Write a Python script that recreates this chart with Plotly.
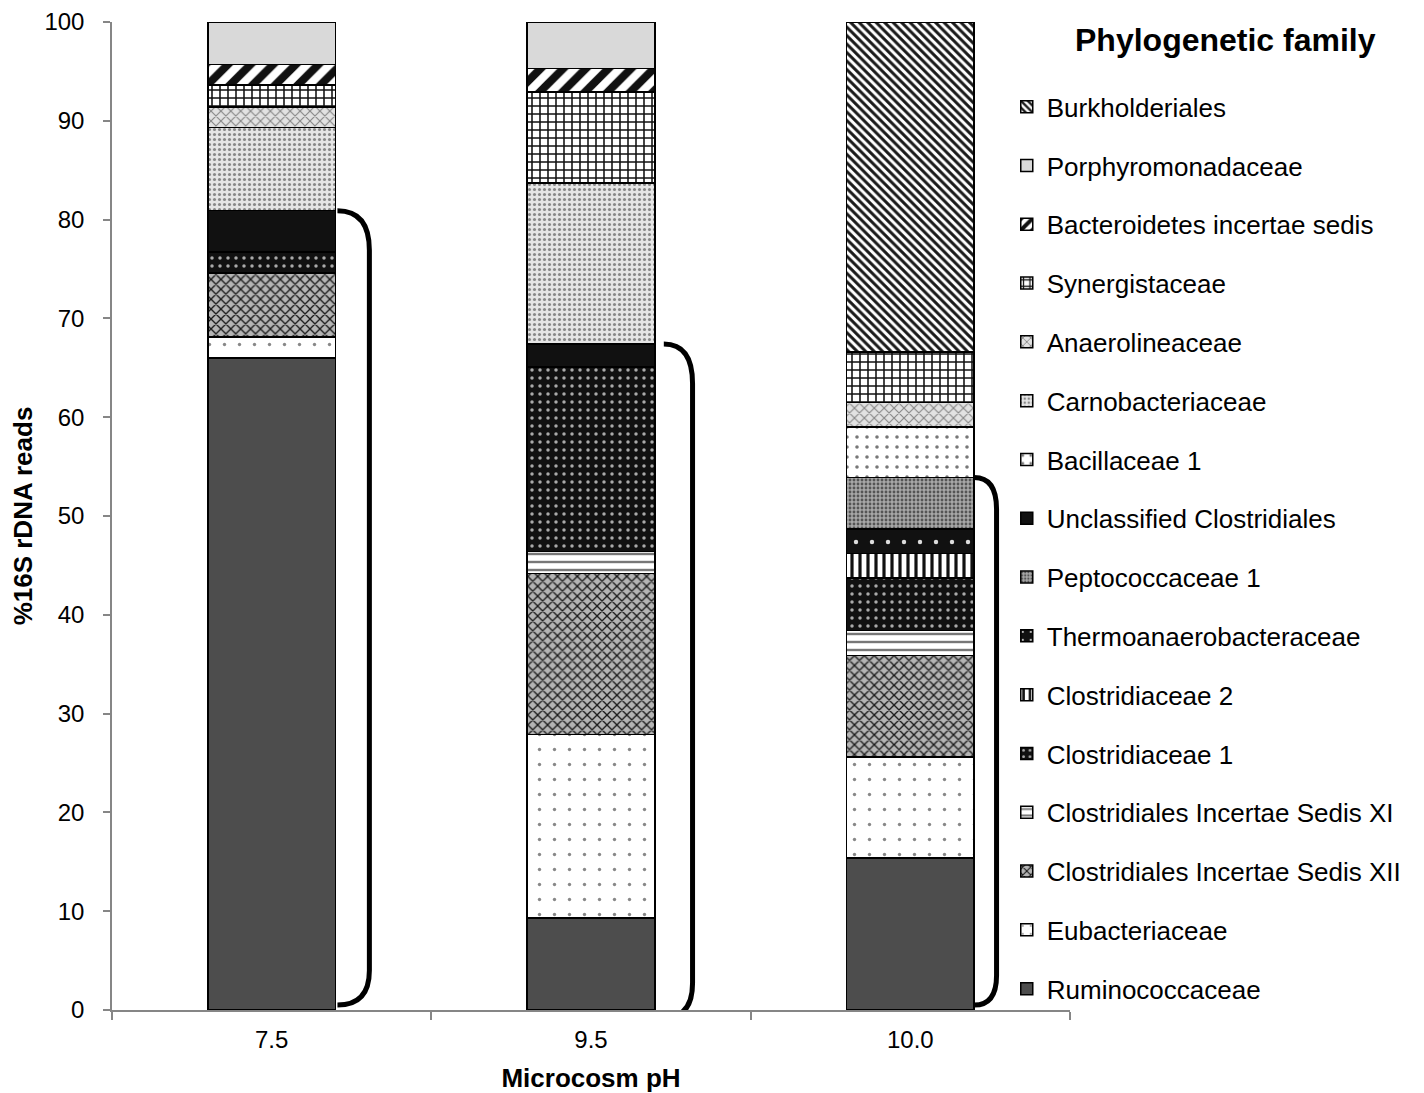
import plotly.graph_objects as go

# ---------------- data ----------------
ph_labels = ["7.5", "9.5", "10.0"]
x_pos = [0, 1, 2]

# families, bottom of stack first
families = [
    "Ruminococcaceae",
    "Eubacteriaceae",
    "Clostridiales Incertae Sedis XII",
    "Clostridiales Incertae Sedis XI",
    "Clostridiaceae 1",
    "Clostridiaceae 2",
    "Thermoanaerobacteraceae",
    "Peptococcaceae 1",
    "Unclassified Clostridiales",
    "Bacillaceae 1",
    "Carnobacteriaceae",
    "Anaerolineaceae",
    "Synergistaceae",
    "Bacteroidetes incertae sedis",
    "Porphyromonadaceae",
    "Burkholderiales",
]

ruminococcaceae = [66.0, 9.3, 15.4]
eubacteriaceae = [2.1, 18.6, 10.2]
cis_xii = [6.5, 16.3, 10.3]
cis_xi = [0.0, 2.2, 2.5]
clostridiaceae_1 = [2.1, 18.7, 5.3]
clostridiaceae_2 = [0.0, 0.0, 2.5]
thermoanaerobacteraceae = [0.0, 0.0, 2.5]
peptococcaceae_1 = [0.0, 0.0, 5.2]
unclassified_clostridiales = [4.2, 2.3, 0.0]
bacillaceae_1 = [0.0, 0.0, 5.1]
carnobacteriaceae = [8.4, 16.3, 0.0]
anaerolineaceae = [2.1, 0.0, 2.5]
synergistaceae = [2.2, 9.2, 5.1]
bacteroidetes_is = [2.1, 2.4, 0.0]
porphyromonadaceae = [4.3, 4.7, 0.0]
burkholderiales = [0.0, 0.0, 33.4]

values = [
    ruminococcaceae, eubacteriaceae, cis_xii, cis_xi, clostridiaceae_1,
    clostridiaceae_2, thermoanaerobacteraceae, peptococcaceae_1,
    unclassified_clostridiales, bacillaceae_1, carnobacteriaceae,
    anaerolineaceae, synergistaceae, bacteroidetes_is, porphyromonadaceae,
    burkholderiales,
]

# brackets: the Clostridia families grouped in each bar (last family index included)
bracket_last_family = [8, 8, 7]

# ---------------- styles ----------------
styles = [
    dict(color="#4d4d4d"),
    dict(shape=".", bg="#ffffff", fg="#888888", size=15, sol=0.04),
    dict(shape="x", bg="#b4b4b4", fg="#1a1a1a", size=7, sol=0.35),
    dict(shape="-", bg="#ffffff", fg="#777777", size=8, sol=0.3),
    dict(shape=".", bg="#111111", fg="#aaaaaa", size=8, sol=0.15),
    dict(shape="|", bg="#ffffff", fg="#111111", size=8, sol=0.4),
    dict(shape=".", bg="#111111", fg="#dddddd", size=16, sol=0.06),
    dict(shape=".", bg="#a8a8a8", fg="#555555", size=4, sol=0.4),
    dict(color="#111111"),
    dict(shape=".", bg="#ffffff", fg="#777777", size=10, sol=0.1),
    dict(shape=".", bg="#e6e6e6", fg="#888888", size=5, sol=0.3),
    dict(shape="x", bg="#e2e2e2", fg="#888888", size=7, sol=0.3),
    dict(shape="+", bg="#ffffff", fg="#111111", size=8, sol=0.35),
    dict(shape="/", bg="#ffffff", fg="#111111", size=16, sol=0.5),
    dict(color="#d9d9d9"),
    dict(shape="\\", bg="#ffffff", fg="#1a1a1a", size=6, sol=0.5),
]

BAR_W = 0.4
fig = go.Figure()
n = len(families)
for i, (name, vals, st) in enumerate(zip(families, values, styles)):
    yv = [v if v > 0 else None for v in vals]
    marker = dict(line=dict(color="#000000", width=1.5))
    if "shape" in st:
        marker["color"] = st["bg"]
        marker["pattern"] = dict(shape=st["shape"], bgcolor=st["bg"], fgcolor=st["fg"],
                                 size=st["size"], solidity=st["sol"], fillmode="replace")
    else:
        marker["color"] = st["color"]
    fig.add_trace(go.Bar(
        x=x_pos, y=yv, name=name, width=BAR_W, marker=marker,
        legendgroup=name, legendrank=100 + n - i, showlegend=True,
    ))

# ---------------- brackets ----------------
br_gap = [0.006, 0.028, 0.0]
br_width = [0.10, 0.09, 0.07]
br_bottom = [0.5, -0.8, 0.5]
br_rtop = [4.0, 4.0, 3.2]
br_rbot = [3.5, 3.5, 3.0]
for b, xi in enumerate(x_pos):
    top = sum(values[k][b] for k in range(bracket_last_family[b] + 1))
    x0 = xi + BAR_W / 2 + br_gap[b]
    x1 = x0 + br_width[b]
    yb = br_bottom[b]
    path = (f"M {x0},{top} Q {x1},{top} {x1},{top - br_rtop[b]} "
            f"L {x1},{yb + br_rbot[b]} Q {x1},{yb} {x0},{yb}")
    fig.add_shape(type="path", path=path, xref="x", yref="y",
                  line=dict(color="#000000", width=5), fillcolor="rgba(0,0,0,0)",
                  layer="above")

fig.add_annotation(text="<b>Phylogenetic family</b>", xref="paper", yref="paper",
                   x=1.1618, y=0.9818, xanchor="center", yanchor="middle",
                   showarrow=False, font=dict(size=32, color="#000000"))

FONT = "Liberation Sans, Arial, sans-serif"
fig.update_layout(
    width=1416, height=1085,
    barmode="stack",
    plot_bgcolor="#ffffff", paper_bgcolor="#ffffff",
    margin=dict(l=104, r=354, t=14, b=83, autoexpand=False),
    font=dict(family=FONT, size=24, color="#000000"),
    legend=dict(
        x=0.934, y=0.938, xanchor="left", yanchor="top",
        traceorder="grouped", tracegroupgap=22,
        font=dict(size=26, color="#000000"),
        bgcolor="rgba(0,0,0,0)",
    ),
    xaxis=dict(
        range=[-0.5, 2.5], tickvals=x_pos, ticktext=ph_labels, ticks="",
        showline=True, linecolor="#868686", linewidth=1.5, showgrid=False,
        zeroline=False, ticklabelstandoff=7,
        minor=dict(tickvals=[-0.5, 0.5, 1.5, 2.5], ticks="outside", ticklen=8,
                   tickcolor="#868686", tickwidth=1.5, showgrid=False),
        title=dict(text="<b>Microcosm pH</b>", font=dict(size=26), standoff=25),
        automargin=False,
    ),
    yaxis=dict(
        range=[0, 100], tickvals=list(range(0, 101, 10)), ticks="outside",
        ticklen=7, tickcolor="#868686", tickwidth=1.5,
        showline=True, linecolor="#868686", linewidth=1.5, showgrid=False,
        zeroline=False, ticklabelstandoff=14,
        title=dict(text="<b>%16S rDNA reads</b>", font=dict(size=26), standoff=4),
        automargin=False,
    ),
)

fig.write_html("out.html")
